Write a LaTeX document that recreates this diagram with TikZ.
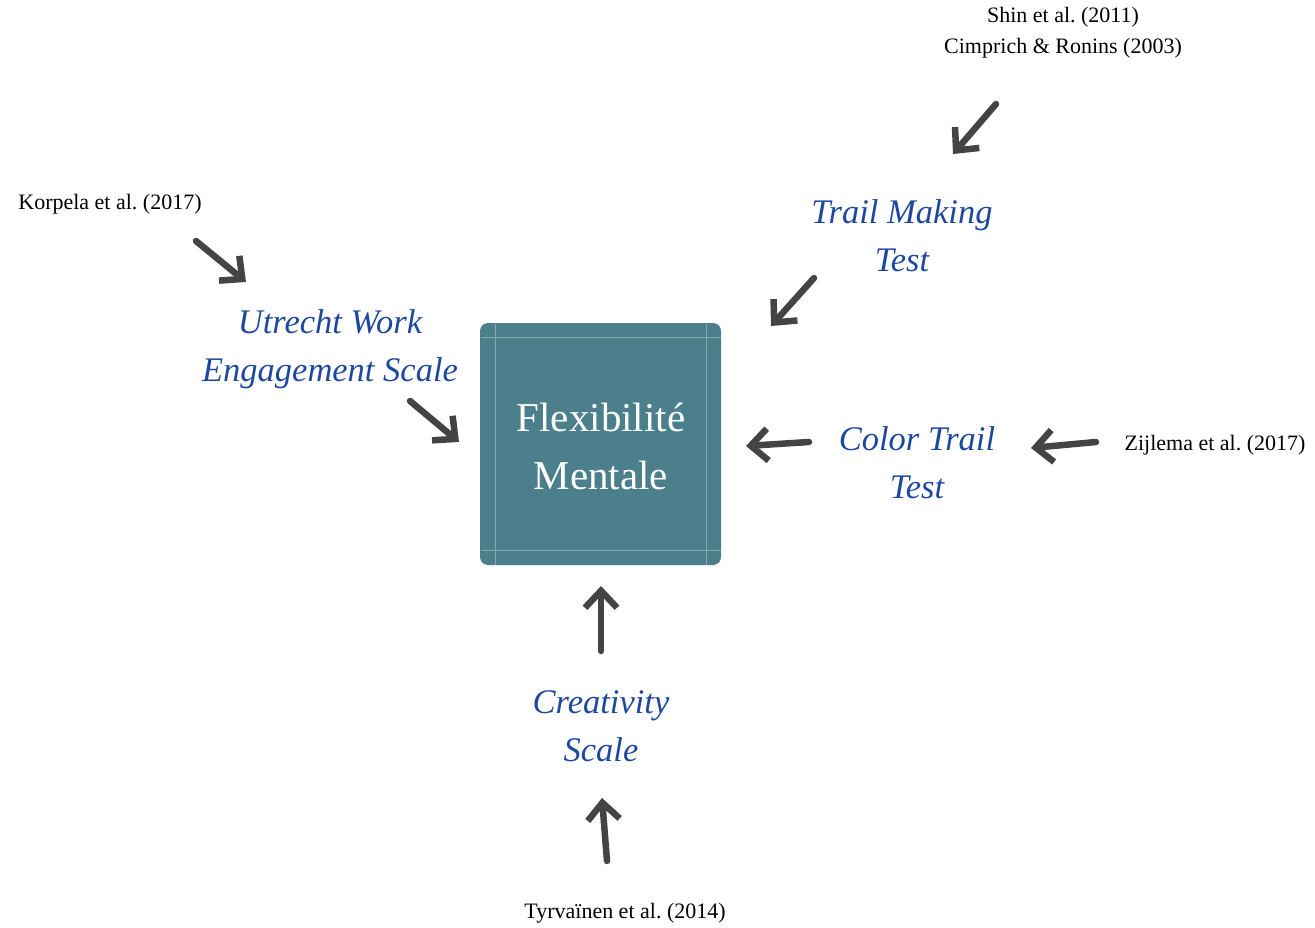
\documentclass[tikz,border=0pt]{standalone}
\usepackage{fontspec}
\setmainfont{Liberation Serif}
\usetikzlibrary{arrows.meta}
\frenchspacing
\definecolor{boxfill}{HTML}{4A7F8B}
\definecolor{boxline}{HTML}{86A9B2}
\definecolor{titleblue}{HTML}{1E48A0}
\definecolor{arrowgray}{HTML}{444444}
\begin{document}
\begin{tikzpicture}[x=1pt,y=-1pt,
  refnode/.style={font=\fontsize{22}{31}\selectfont, align=center, inner sep=0pt, text=black},
  measnode/.style={font=\fontsize{34.5}{48}\selectfont\itshape, align=center, inner sep=0pt, text=titleblue},
  mainbox/.style={fill=boxfill, rounded corners=8pt, minimum width=241pt, minimum height=242pt, inner sep=0pt},
  thickarrow/.style={draw=arrowgray, line width=6.5pt, line cap=round, line join=round,
    -{Straight Barb[length=17pt,width=32pt,line width=6.5pt]}}]
\useasboundingbox (0,0) rectangle (1315,928);

% central box
\node[mainbox] (box) at (600.5,444) {};
\draw[boxline, line width=0.5pt] (495,323.5) -- (495,564.5);
\draw[boxline, line width=0.5pt] (706,323.5) -- (706,564.5);
\draw[boxline, line width=0.5pt] (480.5,337) -- (720.5,337);
\draw[boxline, line width=0.5pt] (480.5,550) -- (720.5,550);
\node[font=\fontsize{41}{58}\selectfont, text=white, align=center, inner sep=0pt] (boxtext) at (601,446) {Flexibilité\\Mentale};

% measures
\node[measnode] (tmt) at (902,236) {Trail Making\\Test};
\node[measnode] (uwes) at (330,349) {Utrecht Work\\Engagement Scale};
\node[measnode] (ctt) at (917,463) {Color Trail\\Test};
\node[measnode] (cs) at (601,726) {Creativity\\Scale};

% references
\node[refnode] (shin) at (1063,33) {Shin et al. (2011)\\Cimprich \& Ronins (2003)};
\node[refnode] (korpela) at (110,204) {Korpela et al. (2017)};
\node[refnode] (zijlema) at (1215,445) {Zijlema et al. (2017)};
\node[refnode] (tyr) at (625,913) {Tyrvaïnen et al. (2014)};

% arrow end points
\coordinate (a1s) at (996,104);
\coordinate (a1e) at (953,154);
\coordinate (a2s) at (814,278);
\coordinate (a2e) at (771,326);
\coordinate (a3s) at (196,241);
\coordinate (a3e) at (246,282);
\coordinate (a4s) at (410,401);
\coordinate (a4e) at (459,442);
\coordinate (a5s) at (809,442);
\coordinate (a5e) at (746,446);
\coordinate (a6s) at (1096,442);
\coordinate (a6e) at (1031,448);
\coordinate (a7s) at (601,651);
\coordinate (a7e) at (601,586);
\coordinate (a8s) at (607,861);
\coordinate (a8e) at (602,798);

\draw[thickarrow] (a1s) -- (a1e);
\draw[thickarrow] (a2s) -- (a2e);
\draw[thickarrow] (a3s) -- (a3e);
\draw[thickarrow] (a4s) -- (a4e);
\draw[thickarrow] (a5s) -- (a5e);
\draw[thickarrow] (a6s) -- (a6e);
\draw[thickarrow] (a7s) -- (a7e);
\draw[thickarrow] (a8s) -- (a8e);
\end{tikzpicture}
\end{document}
